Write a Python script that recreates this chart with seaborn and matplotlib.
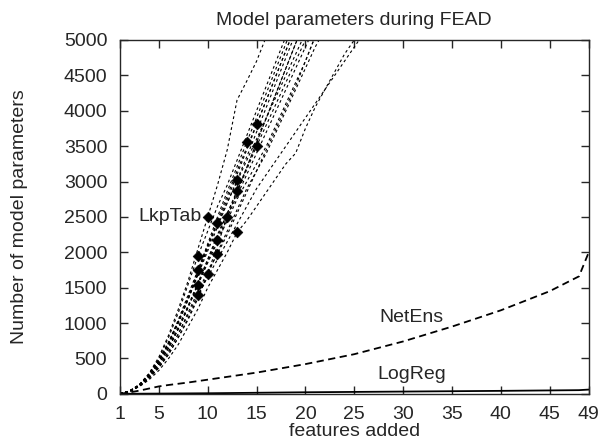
import seaborn as sns
import matplotlib
matplotlib.use('Agg')
import matplotlib.pyplot as plt
import pandas as pd

# LkpTab runs: parameter count per number of features added (x starts at 1)
lkp_runs = [
    [0, 40, 120, 230, 380, 600, 850, 1120, 1400, 1650, 1900, 2150, 2400, 2650, 2900, 3100, 3300, 3500, 3700, 3900, 4100, 4300, 4500, 4700, 4900, 5100],
    [0, 40, 120, 250, 420, 650, 920, 1230, 1540, 1850, 2150, 2450, 2750, 3000, 3250, 3500, 3800, 4100, 4400, 4700, 5050],
    [0, 30, 110, 250, 450, 720, 1050, 1400, 1750, 2100, 2400, 2700, 3000, 3300, 3600, 3900, 4200, 4500, 4800, 5100],
    [0, 30, 120, 280, 500, 800, 1150, 1550, 1950, 2300, 2650, 2950, 3300, 3650, 4000, 4350, 4700, 5050],
    [0, 40, 110, 220, 370, 560, 800, 1050, 1350, 1690, 2000, 2300, 2600, 2900, 3150, 3400, 3700, 4000, 4300, 4600, 4900, 5150],
    [0, 40, 130, 290, 520, 830, 1200, 1600, 2050, 2500, 2950, 3450, 4150, 4420, 4700, 5050],
    [0, 40, 120, 240, 400, 600, 850, 1150, 1450, 1720, 1980, 2250, 2550, 2850, 3150, 3450, 3750, 4050, 4350, 4700, 5050],
    [0, 30, 110, 240, 420, 650, 920, 1230, 1550, 1870, 2180, 2500, 2800, 3100, 3400, 3700, 4000, 4300, 4600, 4900, 5200],
    [0, 30, 120, 260, 460, 720, 1020, 1350, 1700, 2060, 2420, 2750, 3100, 3450, 3800, 4150, 4500, 4850, 5200],
    [0, 40, 110, 220, 370, 560, 800, 1070, 1370, 1700, 2100, 2500, 2850, 3200, 3550, 3900, 4250, 4600, 4950, 5300],
    [0, 40, 100, 200, 330, 500, 700, 950, 1200, 1500, 1750, 2000, 2280, 2450, 2650, 2850, 3050, 3250, 3400, 3750, 4050, 4300, 4550, 4800, 5000, 5200],
    [0, 30, 120, 260, 450, 680, 950, 1250, 1570, 1900, 2220, 2550, 2870, 3200, 3550, 3900, 4250, 4600, 4950, 5300],
    [0, 40, 130, 280, 480, 730, 1020, 1340, 1680, 2020, 2360, 2700, 3020, 3350, 3700, 4050, 4400, 4750, 5100],
    [0, 40, 130, 280, 480, 730, 1030, 1370, 1740, 2120, 2500, 2860, 3210, 3560, 3900, 4250, 4600, 4950, 5300],
    [0, 30, 110, 240, 420, 650, 920, 1220, 1550, 1900, 2250, 2550, 2850, 3170, 3500, 3800, 4100, 4400, 4700, 5000],
    [0, 40, 120, 260, 450, 700, 1000, 1330, 1700, 2080, 2450, 2800, 3150, 3480, 3810, 4150, 4500, 4850, 5200],
]
# feature count at which each run stopped (diamond)
lkp_stop = [9, 9, 9, 9, 10, 10, 11, 11, 11, 12, 13, 13, 13, 14, 15, 15]

netens_x = [1, 2, 3, 4, 5, 6, 8, 10, 12, 15, 20, 25, 30, 35, 40, 45, 48, 49]
netens_y = [0, 20, 45, 75, 105, 125, 160, 200, 240, 300, 420, 560, 740, 950, 1180, 1450, 1660, 2000]

logreg_x = [1, 10, 20, 30, 40, 48, 49]
logreg_y = [0, 8, 22, 32, 42, 52, 60]

x_ticks = [1, 5, 10, 15, 20, 25, 30, 35, 40, 45, 49]

rows = []
for i, run in enumerate(lkp_runs):
    for j, v in enumerate(run):
        rows.append({'run': i, 'features': j + 1, 'params': v})
lkp = pd.DataFrame(rows)
stops = pd.DataFrame({'features': lkp_stop,
                      'params': [lkp_runs[i][s - 1] for i, s in enumerate(lkp_stop)]})

sns.set_style('ticks')
plt.rcParams['font.family'] = ['Liberation Sans', 'DejaVu Sans']
fs = 14

fig = plt.figure(figsize=(6.02, 4.44), dpi=100)
ax = fig.add_axes([0.199, 0.113, 0.779, 0.797])

sns.lineplot(data=lkp, x='features', y='params', units='run', estimator=None,
             color='black', lw=0.8, ax=ax, legend=False)
for l in ax.lines:
    l.set_dashes((2.5, 2.5))
sns.scatterplot(data=stops, x='features', y='params', marker='D', s=30,
                color='black', edgecolor='black', ax=ax, zorder=5)
sns.lineplot(x=netens_x, y=netens_y, color='black', lw=1.3, dashes=False,
             ax=ax).lines[-1].set_dashes((4, 2.5))
sns.lineplot(x=logreg_x, y=logreg_y, color='black', lw=1.3, ax=ax)

ax.text(9.4, 2510, 'LkpTab', ha='right', va='center', fontsize=fs)
ax.text(30.9, 1075, 'NetEns', ha='center', va='center', fontsize=fs)
ax.text(30.9, 270, 'LogReg', ha='center', va='center', fontsize=fs)

ax.set_xlim(1, 49)
ax.set_ylim(0, 5000)
ax.set_xticks(x_ticks)
ax.set_yticks(range(0, 5001, 500))
ax.tick_params(direction='in', top=True, right=True, length=6, width=1,
               labelsize=fs)
ax.tick_params(axis='x', pad=9)
ax.tick_params(axis='y', pad=9)
for s in ax.spines.values():
    s.set_linewidth(1)
ax.set_xlabel('features added', fontsize=fs, labelpad=0)
ax.set_ylabel('Number of model parameters', fontsize=fs, labelpad=26)
ax.set_title('Model parameters during FEAD', fontsize=fs, pad=11)

fig.savefig('out.png', dpi=100)
